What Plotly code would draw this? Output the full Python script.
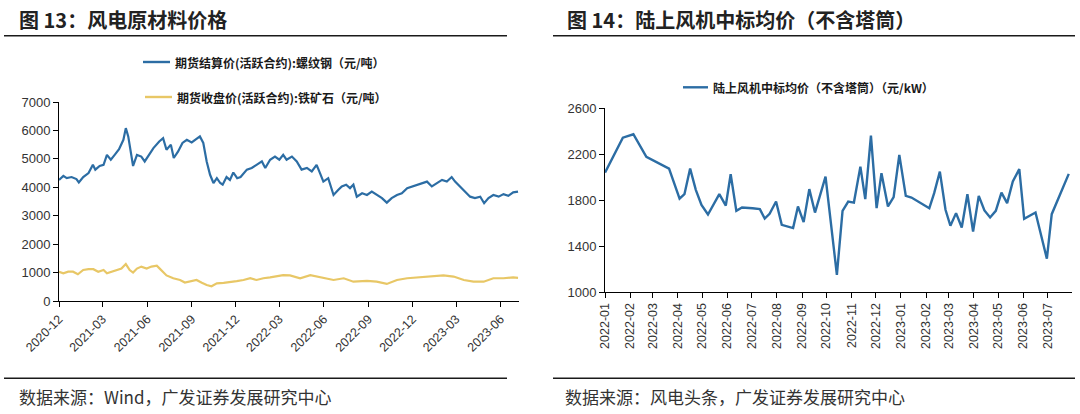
import plotly.graph_objects as go

# ---------------- data ----------------
STEEL_DATES = ["2020-12-01","2020-12-10","2020-12-17","2020-12-27","2021-01-06","2021-01-11","2021-01-20","2021-01-31","2021-02-09","2021-02-14",
"2021-02-23","2021-03-03","2021-03-10","2021-03-18","2021-03-26","2021-04-04","2021-04-13","2021-04-18","2021-04-23","2021-05-03",
"2021-05-11","2021-05-20","2021-05-27","2021-06-05","2021-06-14","2021-06-26","2021-07-04","2021-07-11","2021-07-20","2021-07-26",
"2021-08-04","2021-08-13","2021-08-22","2021-09-01","2021-09-11","2021-09-18","2021-09-25","2021-10-02","2021-10-09","2021-10-16",
"2021-10-23","2021-10-30","2021-11-04","2021-11-12","2021-11-19","2021-11-26","2021-12-04","2021-12-11","2021-12-24","2022-01-03",
"2022-01-13","2022-01-24","2022-01-31","2022-02-10","2022-02-20","2022-03-01","2022-03-09","2022-03-16","2022-03-27","2022-04-06",
"2022-04-16","2022-04-27","2022-05-07","2022-05-17","2022-05-24","2022-05-31","2022-06-10","2022-06-21","2022-07-01","2022-07-08",
"2022-07-17","2022-07-25","2022-08-01","2022-08-08","2022-08-19","2022-08-29","2022-09-08","2022-09-18","2022-09-29","2022-10-09",
"2022-10-19","2022-10-30","2022-11-09","2022-11-20","2022-11-30","2022-12-10","2022-12-21","2022-12-31","2023-01-10","2023-01-20",
"2023-01-31","2023-02-10","2023-02-20","2023-02-27","2023-03-09","2023-03-20","2023-03-30","2023-04-09","2023-04-20","2023-04-28",
"2023-05-07","2023-05-17","2023-05-28","2023-06-07","2023-06-17","2023-06-27","2023-07-07"]
STEEL_VALUES = [4260,4400,4320,4360,4290,4170,4360,4500,4790,4620,
4750,4790,5140,4970,5140,5340,5670,6080,5790,4750,
5140,5080,4910,5140,5380,5610,5730,5320,5500,5030,
5260,5560,5670,5580,5700,5790,5560,4910,4440,4150,
4320,4150,4090,4360,4260,4520,4320,4360,4620,4680,
4790,4910,4680,4970,5080,4970,5140,4970,5080,4910,
4620,4680,4560,4790,4500,4200,4320,3730,3910,4030,
4090,3970,4090,3670,3790,3730,3850,3730,3620,3460,
3620,3730,3790,3970,4030,4090,4150,4200,4030,4150,
4260,4200,4360,4200,4030,3850,3670,3620,3670,3440,
3620,3730,3670,3760,3700,3820,3850]

ORE_DATES = ["2020-12-01","2020-12-10","2020-12-20","2020-12-30","2021-01-09","2021-01-20","2021-01-31","2021-02-10","2021-02-20","2021-03-03",
"2021-03-10","2021-03-20","2021-03-30","2021-04-09","2021-04-18","2021-04-26","2021-05-03","2021-05-11","2021-05-20","2021-05-31",
"2021-06-10","2021-06-21","2021-06-27","2021-07-04","2021-07-11","2021-07-25","2021-08-08","2021-08-18","2021-08-29","2021-09-11",
"2021-09-22","2021-10-02","2021-10-12","2021-10-23","2021-11-06","2021-11-19","2021-12-03","2021-12-17","2021-12-31","2022-01-13",
"2022-01-27","2022-02-10","2022-02-24","2022-03-09","2022-03-23","2022-04-13","2022-05-04","2022-05-17","2022-05-31","2022-06-21",
"2022-07-12","2022-08-01","2022-08-29","2022-09-18","2022-10-09","2022-10-30","2022-11-20","2022-12-17","2023-01-13","2023-02-03",
"2023-02-24","2023-03-17","2023-04-06","2023-04-27","2023-05-17","2023-06-07","2023-06-27","2023-07-07"]
ORE_VALUES = [1030,975,1030,1030,940,1090,1120,1120,1030,1090,
975,1030,1090,1140,1300,1090,1000,1140,1210,1140,
1210,1240,1140,1030,900,800,740,650,681,740,
640,564,520,620,640,681,700,740,800,740,
800,830,880,910,900,800,910,860,800,740,
800,680,710,680,600,740,800,830,860,900,
860,740,680,680,800,800,830,815]

WIND_DATES = ["2022-01-01","2022-01-23","2022-02-05","2022-02-21","2022-03-21","2022-04-03","2022-04-09","2022-04-16","2022-04-23","2022-04-30",
"2022-05-08","2022-05-22","2022-05-30","2022-06-05","2022-06-12","2022-06-19","2022-07-02","2022-07-11","2022-07-17","2022-07-23",
"2022-07-31","2022-08-07","2022-08-21","2022-08-27","2022-09-03","2022-09-10","2022-09-17","2022-09-30","2022-10-14","2022-10-21",
"2022-10-28","2022-11-04","2022-11-12","2022-11-18","2022-11-25","2022-12-02","2022-12-08","2022-12-16","2022-12-23","2022-12-30",
"2023-01-07","2023-01-14","2023-02-05","2023-02-11","2023-02-18","2023-02-25","2023-03-03","2023-03-10","2023-03-17","2023-03-24",
"2023-03-31","2023-04-07","2023-04-14","2023-04-21","2023-04-28","2023-05-05","2023-05-12","2023-05-19","2023-05-27","2023-06-02",
"2023-06-16","2023-06-30","2023-07-06","2023-07-27"]
WIND_VALUES = [2040,2344,2374,2177,2075,1814,1852,2075,1890,1759,
1675,1852,1753,2026,1707,1736,1730,1722,1640,1681,
1788,1585,1557,1745,1609,1896,1692,2005,1150,1707,
1788,1779,2092,1809,2362,1730,2035,1745,1826,2194,
1837,1823,1730,1861,2049,1716,1577,1687,1562,1852,
1527,1837,1710,1649,1707,1866,1774,1962,2070,1637,
1692,1290,1678,2029]

LEFT_TICKS = ["2020-12-01","2021-03-01","2021-06-01","2021-09-01","2021-12-01","2022-03-01",
              "2022-06-01","2022-09-01","2022-12-01","2023-03-01","2023-06-01"]
RIGHT_TICKS = ["2022-01-01","2022-02-01","2022-03-01","2022-04-01","2022-05-01","2022-06-01","2022-07-01",
               "2022-08-01","2022-09-01","2022-10-01","2022-11-01","2022-12-01","2023-01-01","2023-02-01",
               "2023-03-01","2023-04-01","2023-05-01","2023-06-01","2023-07-01"]

STEEL_NAME = "期货结算价(活跃合约):螺纹钢（元/吨）"
ORE_NAME = "期货收盘价(活跃合约):铁矿石（元/吨）"
WIND_NAME = "陆上风机中标均价（不含塔筒）（元/kW）"
TITLE_L = "图 13：风电原材料价格"
TITLE_R = "图 14：陆上风机中标均价（不含塔筒）"
SRC_L = "数据来源：Wind，广发证券发展研究中心"
SRC_R = "数据来源：风电头条，广发证券发展研究中心"

# ---------------- styling ----------------
W, H = 1080, 414
BLUE = "#2C6DA4"
GOLD = "#E8C766"
CJK = "Noto Sans CJK SC"
NUM = "Liberation Sans, Arial"

def px(x):
    return x / W

def py(y):
    return 1 - y / H

fig = go.Figure()
fig.add_trace(go.Scatter(x=STEEL_DATES, y=STEEL_VALUES, mode="lines", name=STEEL_NAME,
                         line=dict(color=BLUE, width=2.2), xaxis="x", yaxis="y", showlegend=False))
fig.add_trace(go.Scatter(x=ORE_DATES, y=ORE_VALUES, mode="lines", name=ORE_NAME,
                         line=dict(color=GOLD, width=2.2), xaxis="x", yaxis="y", showlegend=False))
fig.add_trace(go.Scatter(x=WIND_DATES, y=WIND_VALUES, mode="lines", name=WIND_NAME,
                         line=dict(color=BLUE, width=2.4), xaxis="x2", yaxis="y2", showlegend=False))

def axis_style(size=13):
    return dict(showline=True, linecolor="#000000", linewidth=1, ticks="outside", ticklen=5,
                tickcolor="#000000", tickwidth=1, showgrid=False, zeroline=False, automargin=False,
                tickfont=dict(family=NUM, size=size, color="#333333"))

fig.update_layout(
    template="none",
    width=W, height=H, autosize=False,
    margin=dict(l=0, r=0, t=0, b=0, pad=0),
    paper_bgcolor="white", plot_bgcolor="white",
    showlegend=False,
    xaxis=dict(domain=[px(59), px(519)], anchor="y", type="date",
               range=["2020-12-01", "2023-07-09"], tickvals=LEFT_TICKS, tickformat="%Y-%m",
               tickangle=-45, **axis_style(12.5)),
    yaxis=dict(domain=[py(301), py(102)], anchor="x", range=[0, 7000], tick0=0, dtick=1000, **axis_style(13)),
    xaxis2=dict(domain=[px(605), px(1072)], anchor="y2", type="date",
                range=["2022-01-01", "2023-07-31"], tickvals=RIGHT_TICKS, tickformat="%Y-%m",
                tickangle=-90, **axis_style(12.5)),
    yaxis2=dict(domain=[py(292), py(108.3)], anchor="x2", range=[1000, 2600], tick0=1000, dtick=400,
                **axis_style(13)),
)

shapes = []
# header / footer rules
for x0, x1 in [(4, 507), (553, 1075)]:
    shapes.append(dict(type="line", xref="paper", yref="paper", x0=px(x0), x1=px(x1),
                       y0=py(35.7), y1=py(35.7), line=dict(color="#1a1a1a", width=1.6)))
    shapes.append(dict(type="line", xref="paper", yref="paper", x0=px(x0), x1=px(x1),
                       y0=py(378.3), y1=py(378.3), line=dict(color="#1a1a1a", width=1.4)))
# legend samples
legend_items = [(143, 170, 62, BLUE, STEEL_NAME), (145, 172, 97, GOLD, ORE_NAME),
                (683, 708, 87.3, BLUE, WIND_NAME)]
annotations = []
for x0, x1, y, col, label in legend_items:
    shapes.append(dict(type="line", xref="paper", yref="paper", x0=px(x0), x1=px(x1),
                       y0=py(y), y1=py(y), line=dict(color=col, width=2.4)))
    annotations.append(dict(xref="paper", yref="paper", x=px(x1 + 3), y=py(y), xanchor="left",
                            yanchor="middle", text="<b>" + label + "</b>", showarrow=False,
                            font=dict(family=CJK, size=12, color="#1a1a1a")))

# titles
for x, t in [(17, TITLE_L), (565, TITLE_R)]:
    annotations.append(dict(xref="paper", yref="paper", x=px(x), y=py(20), xanchor="left",
                            yanchor="middle", text="<b>" + t + "</b>", showarrow=False,
                            font=dict(family=CJK, size=20, color="#222222")))
# sources
for x, t in [(17, SRC_L), (563, SRC_R)]:
    annotations.append(dict(xref="paper", yref="paper", x=px(x), y=py(396), xanchor="left",
                            yanchor="middle", text=t, showarrow=False,
                            font=dict(family=CJK, size=17, color="#333333")))

fig.update_layout(shapes=shapes, annotations=annotations)
fig.write_html("out.html", config={"displayModeBar": False},
               post_script="document.body.style.margin='0';document.body.style.overflow='hidden';")
